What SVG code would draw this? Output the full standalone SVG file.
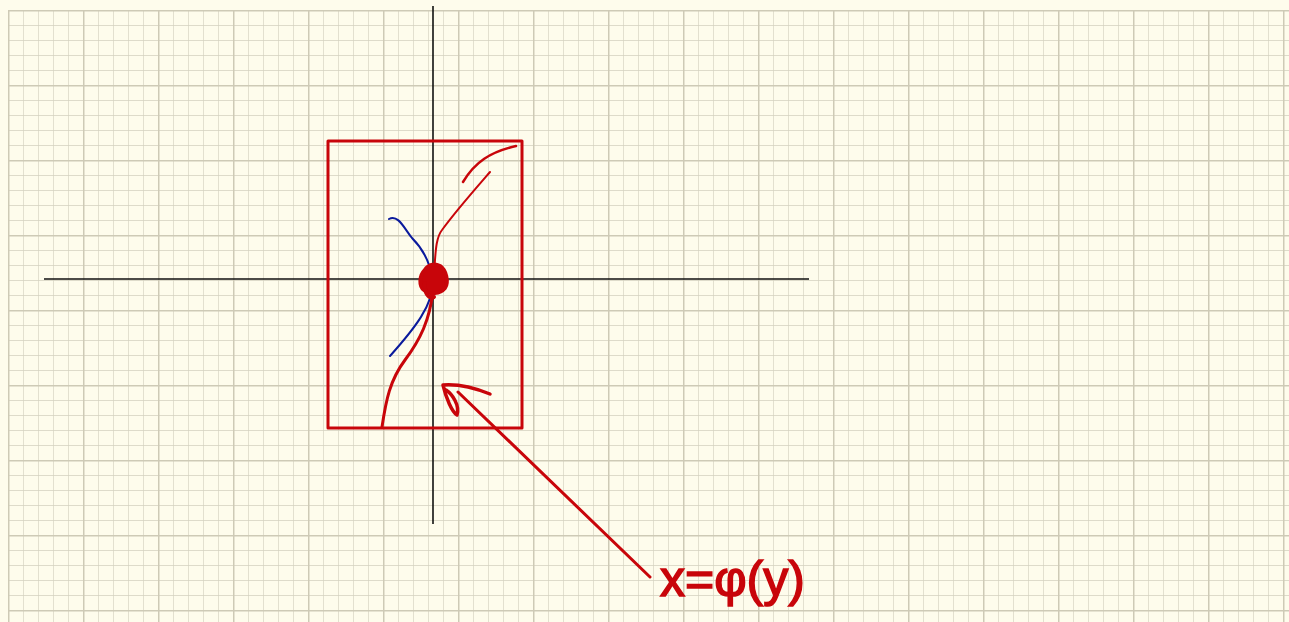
<svg xmlns="http://www.w3.org/2000/svg" width="1289" height="622" viewBox="0 0 1289 622">
<defs>
<pattern id="minor" x="8" y="10" width="15" height="15" patternUnits="userSpaceOnUse">
<path d="M0 0H15M0 0V15" fill="none" stroke="#d4d1c0" stroke-width="1.3"/>
</pattern>
<pattern id="major" x="8" y="10" width="75" height="75" patternUnits="userSpaceOnUse">
<path d="M0 0H75M0 0V75" fill="none" stroke="#cecab6" stroke-width="3"/>
</pattern>
<style>
.axis{stroke:#111;stroke-width:1.6;fill:none}
.red{stroke:#c8050a;fill:none;stroke-linecap:round;stroke-linejoin:round}
.blob{stroke:#c8050a;fill:#c8050a;stroke-linejoin:round}
.blue{stroke:#0a1a9c;fill:none;stroke-width:2;stroke-linecap:round}
.lbl{font-family:"Liberation Sans",Arial,sans-serif;font-size:50px;fill:#c8050a;stroke:#c8050a;stroke-width:1.5}
</style>
</defs>
<rect width="1289" height="622" fill="#fefcec"/>
<rect x="8" y="10" width="1281" height="612" fill="url(#minor)"/>
<rect x="8" y="10" width="1281" height="612" fill="url(#major)"/>
<g id="axes">
<line class="axis" x1="433" y1="6" x2="433" y2="524"/>
<line class="axis" x1="44" y1="279" x2="809" y2="279"/>
</g>
<g id="box">
<rect class="red" x="328" y="141" width="194" height="287" stroke-width="3"/>
</g>
<g id="curves">
<path class="blue" d="M389 219 C398 214 404 228 412 238 C424 250 431 265 433 282 C433 305 415 328 390 356"/>
<path class="red" stroke-width="3" d="M382 427 C386 400 390 380 405 360 C420 340 430 320 433 290"/>
<path class="red" stroke-width="2" d="M433 280 C436 262 434 240 442 230 C455 212 470 195 490 172"/>
<path class="red" stroke-width="2.5" d="M463 182 C475 162 490 152 516 146"/>
<path class="blob" stroke-width="4" d="M425 270 C419 276 419 286 424 290 C430 295 440 294 445 288 C449 282 446 270 440 266 C434 263 428 265 425 270 Z"/>
<path class="red" stroke-width="4" d="M425 283 C424 292 428 299 434 297"/>
</g>
<g id="connectors">
<path class="red" stroke-width="3" d="M650 577 L458 392"/>
<path class="red" stroke-width="3.5" d="M490 394 C470 386 455 384 443 385 C446 398 452 412 457 415 C460 405 452 394 446 390"/>
</g>
<g id="label">
<text class="lbl" x="660" y="596">x=φ(y)</text>
</g>
</svg>
